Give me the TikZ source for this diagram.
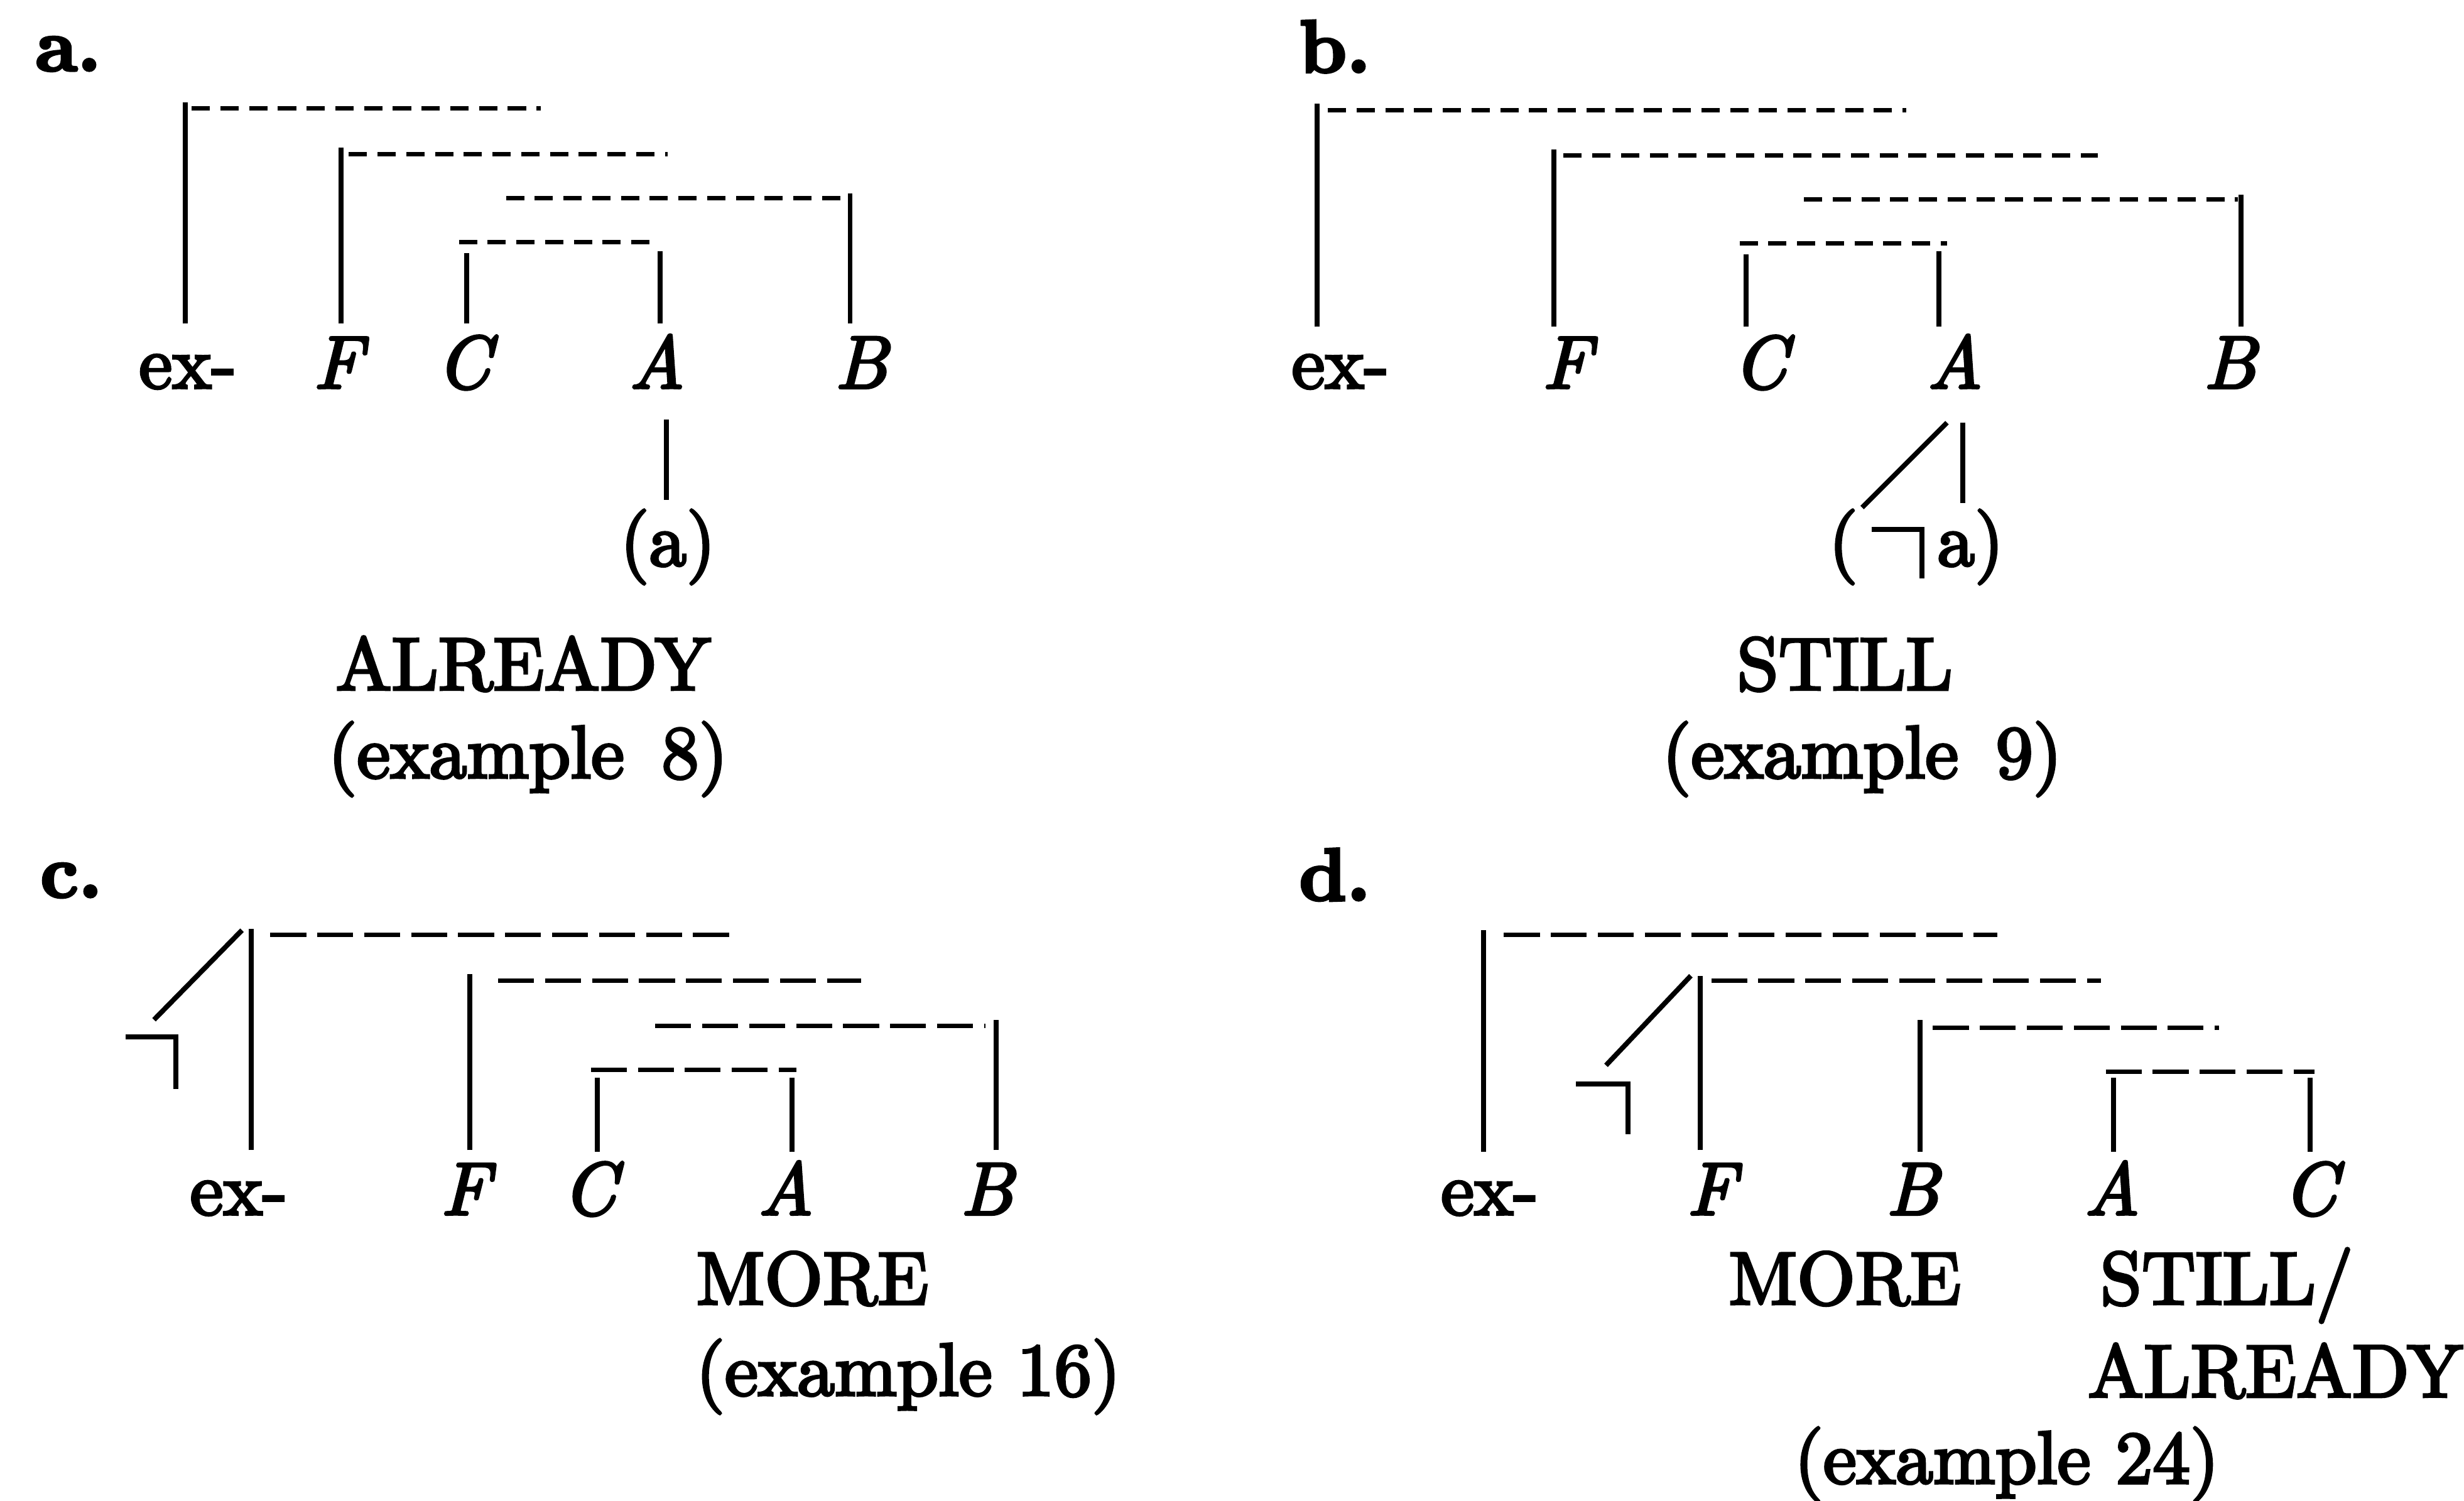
\documentclass[tikz,border=0pt]{standalone}
\usepackage{fontspec}
\setmainfont{lmroman10-regular.otf}[ItalicFont=lmroman10-italic.otf,BoldFont=lmroman10-bold.otf,FakeBold=3.5]
\begin{document}
\begin{tikzpicture}[x=0.01cm,y=-0.01cm,
  txt/.style={font=\fontsize{13.5}{16}\selectfont, inner sep=0pt, anchor=base},
  var/.style={font=\fontsize{13.5}{16}\selectfont\itshape, inner sep=0pt, anchor=base},
  tag/.style={font=\fontsize{13.5}{16}\selectfont\bfseries, inner sep=0pt, anchor=base west},
  bar/.style={line width=0.9pt},
  dashup/.style={line width=0.8pt, dash pattern=on 3.3pt off 1.9pt},
  dashlow/.style={line width=0.8pt, dash pattern=on 6.5pt off 2pt}]
\useasboundingbox (0,0) rectangle (1568,955);

% ---------- panel a ----------
\node[tag] (ta) at (22,45) {a.};
\node[txt] (aex) at (119.5,247) {ex-};
\node[var] (aF) at (215,247) {F};
\node[var] (aC) at (295,247) {C};
\node[var] (aA) at (418,247) {A};
\node[var] (aB) at (548,247) {B};
\node[txt] (aa) at (425,360) {(a)};
\node[txt] (aw) at (333,439) {ALREADY};
\node[txt] (ae) at (336,495) {(example\,\ 8)};
\draw[bar] (118,206) -- (118,65);
\draw[bar] (217,206) -- (217,94);
\draw[bar] (541,206) -- (541,123);
\draw[bar] (297,206) -- (297,161);
\draw[bar] (420,206) -- (420,160);
\draw[dashup] (122,69) -- (344,69);
\draw[dashup] (222,98) -- (425,98);
\draw[dashup] (322,126) -- (538,126);
\draw[dashup] (292,154) -- (420,154);
\draw[bar] (424,267) -- (424,318);

% ---------- panel b ----------
\node[tag] (tb) at (826,46) {b.};
\node[txt] (bex) at (853,247) {ex-};
\node[var] (bF) at (997,247) {F};
\node[var] (bC) at (1120,247) {C};
\node[var] (bA) at (1244,247) {A};
\node[var] (bB) at (1419,247) {B};
\node[txt] (bl) at (1173,360) {(};
\node[txt] (br) at (1254,360) {a)};
\node[txt] (bw) at (1174,439) {STILL};
\node[txt] (be) at (1185,495) {(example\,\ 9)};
\draw[bar] (838,208) -- (838,66);
\draw[bar] (989,208) -- (989,95);
\draw[bar] (1426,208) -- (1426,124);
\draw[bar] (1111,208) -- (1111,162);
\draw[bar] (1234,208) -- (1234,160);
\draw[dashup] (845,70) -- (1213,70);
\draw[dashup] (995,99) -- (1335,99);
\draw[dashup] (1148,127) -- (1424,127);
\draw[dashup] (1107,155) -- (1239,155);
\draw[bar] (1239,269) -- (1185,323);
\draw[bar] (1249,269) -- (1249,320);
\draw[bar] (1191,337) -- (1223,337) -- (1223,368);

% ---------- panel c ----------
\node[tag] (tc) at (25,571) {c.};
\node[txt] (cex) at (152,773) {ex-};
\node[var] (cF) at (296,773) {F};
\node[var] (cC) at (375,773) {C};
\node[var] (cA) at (500,773) {A};
\node[var] (cB) at (628,773) {B};
\node[txt] (cw) at (517,830) {MORE};
\node[txt] (ce) at (578,888) {(example 16)};
\draw[bar] (160,732) -- (160,591);
\draw[bar] (299,732) -- (299,620);
\draw[bar] (634,732) -- (634,649);
\draw[bar] (380,733) -- (380,686);
\draw[bar] (504,733) -- (504,686);
\draw[bar] (98,649) -- (154,592);
\draw[bar] (80,660) -- (112,660) -- (112,693);
\draw[dashlow] (172,595) -- (464,595);
\draw[dashlow] (317,624) -- (548,624);
\draw[dashlow] (417,653) -- (627,653);
\draw[dashlow] (376,681) -- (507,681);

% ---------- panel d ----------
\node[tag] (td) at (826,573) {d.};
\node[txt] (dex) at (948,773) {ex-};
\node[var] (dF) at (1089,773) {F};
\node[var] (dB) at (1217,773) {B};
\node[var] (dA) at (1344,773) {A};
\node[var] (dC) at (1470,773) {C};
\node[txt] (dw1) at (1174,830) {MORE};
\node[txt] (dw2) at (1417,830) {STILL/};
\node[txt] (dw3) at (1448,889) {ALREADY};
\node[txt] (de) at (1277,944) {(example 24)};
\draw[bar] (944,733) -- (944,592);
\draw[bar] (1082,732) -- (1082,621);
\draw[bar] (1222,733) -- (1222,649);
\draw[bar] (1345,733) -- (1345,686);
\draw[bar] (1470,733) -- (1470,686);
\draw[bar] (1022,678) -- (1076,621);
\draw[bar] (1003,690) -- (1036,690) -- (1036,722);
\draw[dashlow] (957,595) -- (1271,595);
\draw[dashlow] (1089,624) -- (1337,624);
\draw[dashlow] (1230,654) -- (1412,654);
\draw[dashlow] (1340,682) -- (1473,682);
\end{tikzpicture}
\end{document}
